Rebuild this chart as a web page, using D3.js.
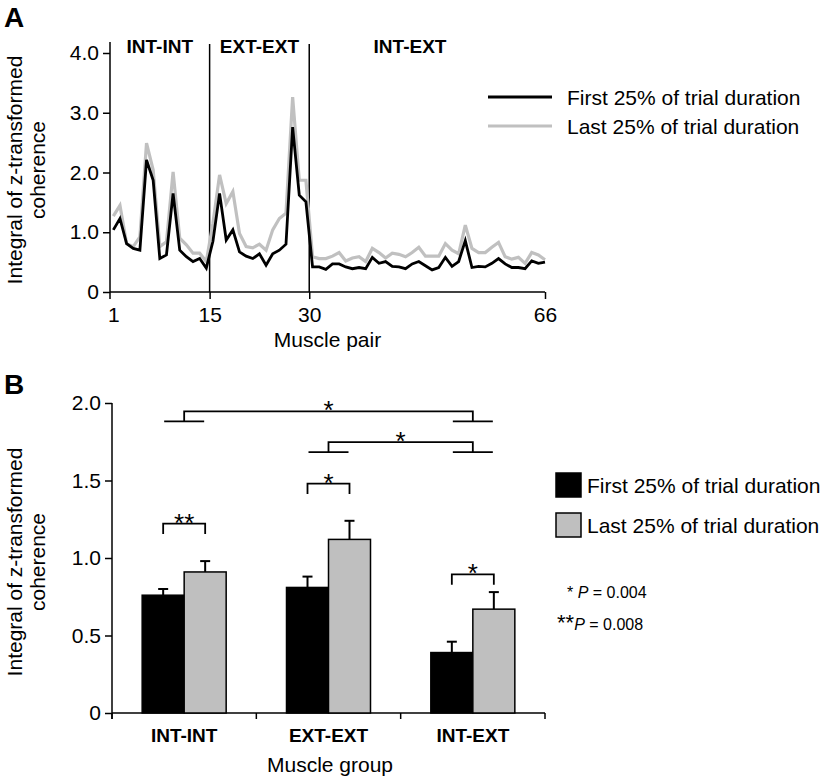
<!DOCTYPE html>
<html><head><meta charset="utf-8">
<script src="https://cdn.jsdelivr.net/npm/d3@7"></script>
<style>body{margin:0;background:#fff} svg{display:block} text{font-family:"Liberation Sans",Arial,sans-serif;fill:#000}</style>
</head><body><svg id="c" width="827" height="781"></svg>
<script>
// ---------- Panel A data ----------
const firstA = [1.04,1.23,0.81,0.73,0.70,2.21,1.87,0.56,0.62,1.65,0.70,0.59,0.51,0.56,0.40,
  0.85,1.65,0.87,1.04,0.67,0.60,0.56,0.64,0.45,0.64,0.70,0.80,2.76,1.62,1.51,
  0.42,0.42,0.38,0.47,0.47,0.42,0.39,0.41,0.39,0.58,0.48,0.51,0.43,0.42,0.39,0.47,0.51,0.44,
  0.37,0.41,0.58,0.43,0.51,0.86,0.41,0.43,0.42,0.48,0.56,0.47,0.41,0.41,0.39,0.52,0.48,0.50];
const lastA = [1.27,1.45,0.81,0.76,0.92,2.49,2.04,0.76,0.84,2.01,0.90,0.79,0.65,0.65,0.51,
  1.15,1.96,1.48,1.68,0.98,0.76,0.74,0.80,0.70,1.04,1.23,1.32,3.26,1.87,1.87,
  0.59,0.56,0.56,0.60,0.66,0.52,0.57,0.59,0.51,0.73,0.66,0.57,0.65,0.63,0.59,0.66,0.75,0.60,
  0.60,0.60,0.81,0.70,0.64,1.12,0.73,0.66,0.66,0.75,0.83,0.59,0.55,0.58,0.48,0.66,0.62,0.54];
const regionLabels = ["INT-INT","EXT-EXT","INT-EXT"];
const regionBounds = [15.5, 30.5];
const xTickPos = [1, 15.5, 30.5, 66];
const xTickLabels = ["1","15","30","66"];
const yTicksA = [0,1,2,3,4];

// ---------- Panel B data ----------
const groups = ["INT-INT","EXT-EXT","INT-EXT"];
const firstB = [0.76,0.81,0.39];
const firstSE = [0.04,0.07,0.07];
const lastB = [0.91,1.12,0.67];
const lastSE = [0.07,0.12,0.11];
const yTicksB = [0,0.5,1,1.5,2];
const seriesNames = ["First 25% of trial duration","Last 25% of trial duration"];
const withinSig = ["**","*","*"];
const withinSigY = [1.222,1.48,0.895];
const betweenSig = [
  {from:"INT-INT", to:"INT-EXT", y:1.946, label:"*"},
  {from:"EXT-EXT", to:"INT-EXT", y:1.747, label:"*"}];
const pNotes = ["P = 0.004","P = 0.008"];

const svg = d3.select("#c");
const FONT = 21;
const GRAY_LINE = "#c0c0c0", GRAY_BAR = "#bfbfbf";

// ================= PANEL A =================
const xA = d3.scaleLinear().domain([0.5,66]).range([110,545]);
const yA = d3.scaleLinear().domain([0,4]).range([292,53]);
const gA = svg.append("g");

svg.append("text").attr("x",4).attr("y",27).attr("font-size",28).attr("font-weight","bold").text("A");

// y axis
const axA = gA.append("g").attr("transform","translate(110,0)")
  .call(d3.axisLeft(yA).tickValues(yTicksA).tickSize(7).tickPadding(4)
    .tickFormat(d=>d===0?"0":d3.format(".1f")(d)));
axA.select(".domain").remove();
axA.selectAll("line").attr("stroke-width",1.5);
axA.selectAll("text").attr("font-size",FONT).style("font-family",'"Liberation Sans",Arial,sans-serif');
gA.append("line").attr("x1",110).attr("x2",110).attr("y1",42).attr("y2",299).attr("stroke","#000").attr("stroke-width",1.5);

// x axis
const axXA = gA.append("g").attr("transform","translate(0,292)")
  .call(d3.axisBottom(xA).tickValues(xTickPos).tickSize(7).tickPadding(8)
    .tickFormat((d,i)=>xTickLabels[i]));
axXA.select(".domain").remove();
axXA.selectAll("line").attr("stroke-width",1.5);
axXA.selectAll(".tick").filter((d,i)=>i===0).select("line").remove();
axXA.selectAll("text").attr("font-size",FONT).style("font-family",'"Liberation Sans",Arial,sans-serif');
gA.append("line").attr("x1",110).attr("x2",xA(66)).attr("y1",292).attr("y2",292).attr("stroke","#000").attr("stroke-width",1.5);

// region dividers
regionBounds.forEach(b=>{
  gA.append("line").attr("x1",xA(b)).attr("x2",xA(b)).attr("y1",44).attr("y2",292)
    .attr("stroke","#000").attr("stroke-width",1.5);
});
const regionCenters = [(xA(0.5)+xA(regionBounds[0]))/2, (xA(regionBounds[0])+xA(regionBounds[1]))/2, 410];
regionLabels.forEach((l,i)=>{
  gA.append("text").attr("x",regionCenters[i]).attr("y",53).attr("text-anchor","middle")
    .attr("font-size",19).attr("font-weight","bold").text(l);
});

// lines
const lineA = d3.line().x((d,i)=>xA(i+1)).y(d=>yA(d));
gA.append("path").datum(lastA).attr("d",lineA).attr("fill","none").attr("stroke",GRAY_LINE).attr("stroke-width",3.2);
gA.append("path").datum(firstA).attr("d",lineA).attr("fill","none").attr("stroke","#000").attr("stroke-width",2.8);

// axis titles
gA.append("text").attr("x",(110+545)/2).attr("y",347).attr("text-anchor","middle").attr("font-size",FONT).text("Muscle pair");
const titA = gA.append("text").attr("transform","translate(0,170) rotate(-90)").attr("text-anchor","middle").attr("font-size",FONT);
titA.append("tspan").attr("x",0).attr("y",22).text("Integral of z-transformed");
titA.append("tspan").attr("x",0).attr("y",45).text("coherence");

// legend A
[["#000",2.8],[GRAY_LINE,3.2]].forEach((s,i)=>{
  const yy = 97 + i*29;
  gA.append("line").attr("x1",488).attr("x2",552).attr("y1",yy).attr("y2",yy).attr("stroke",s[0]).attr("stroke-width",s[1]);
  gA.append("text").attr("x",567).attr("y",yy+7.5).attr("font-size",FONT).text(seriesNames[i]);
});

// ================= PANEL B =================
const gB = svg.append("g");
svg.append("text").attr("x",4).attr("y",394).attr("font-size",28).attr("font-weight","bold").text("B");
const yB = d3.scaleLinear().domain([0,2]).range([713,403]);
const xB = d3.scaleBand().domain(groups).range([112,545]);
const barW = 42;
const xs = d3.scaleBand().domain([0,1]).range([xB.bandwidth()/2-barW, xB.bandwidth()/2+barW]);

const axB = gB.append("g").attr("transform","translate(112,0)")
  .call(d3.axisLeft(yB).tickValues(yTicksB).tickSize(7).tickPadding(4)
    .tickFormat(d=>d===0?"0":d3.format(".1f")(d)));
axB.select(".domain").remove();
axB.selectAll("line").attr("stroke-width",1.5);
axB.selectAll("text").attr("font-size",FONT).style("font-family",'"Liberation Sans",Arial,sans-serif');
gB.append("line").attr("x1",112).attr("x2",112).attr("y1",yB(2)).attr("y2",719).attr("stroke","#000").attr("stroke-width",1.5);
gB.append("line").attr("x1",112).attr("x2",545).attr("y1",713).attr("y2",713).attr("stroke","#000").attr("stroke-width",1.5);
const bounds = groups.map(g=>xB(g)).concat([xB.range()[1]]);
bounds.forEach(b=>gB.append("line").attr("x1",b).attr("x2",b).attr("y1",713).attr("y2",719).attr("stroke","#000").attr("stroke-width",1.5));
groups.forEach(g=>gB.append("text").attr("x",xB(g)+xB.bandwidth()/2).attr("y",742)
  .attr("text-anchor","middle").attr("font-size",19).attr("font-weight","bold").text(g));
gB.append("text").attr("x",330).attr("y",772).attr("text-anchor","middle").attr("font-size",FONT).text("Muscle group");
const titB = gB.append("text").attr("transform","translate(0,562) rotate(-90)").attr("text-anchor","middle").attr("font-size",FONT);
titB.append("tspan").attr("x",0).attr("y",22).text("Integral of z-transformed");
titB.append("tspan").attr("x",0).attr("y",45).text("coherence");

// bars
const series = [
  {vals:firstB, se:firstSE, fill:"#000"},
  {vals:lastB, se:lastSE, fill:GRAY_BAR}];
const barCenter = (gi,si)=>xB(groups[gi])+xs(si)+xs.bandwidth()/2;
series.forEach((s,si)=>{
  s.vals.forEach((v,gi)=>{
    const cx = barCenter(gi,si);
    gB.append("line").attr("x1",cx).attr("x2",cx).attr("y1",yB(v)).attr("y2",yB(v+s.se[gi])).attr("stroke","#000").attr("stroke-width",2);
    gB.append("line").attr("x1",cx-5).attr("x2",cx+5).attr("y1",yB(v+s.se[gi])).attr("y2",yB(v+s.se[gi])).attr("stroke","#000").attr("stroke-width",2);
  });
  gB.selectAll(null).data(s.vals).enter().append("rect")
    .attr("x",(v,gi)=>xB(groups[gi])+xs(si)).attr("width",xs.bandwidth())
    .attr("y",v=>yB(v)).attr("height",v=>yB(0)-yB(v))
    .attr("fill",s.fill).attr("stroke","#000").attr("stroke-width",1.5);
});

// within-group brackets
withinSig.forEach((lab,gi)=>{
  const x1 = barCenter(gi,0), x2 = barCenter(gi,1), yy = yB(withinSigY[gi]);
  gB.append("path").attr("d",`M${x1},${yy+10.5}V${yy}H${x2}V${yy+10.5}`).attr("fill","none").attr("stroke","#000").attr("stroke-width",1.8);
  gB.append("text").attr("x",(x1+x2)/2).attr("y",yy+8).attr("text-anchor","middle").attr("font-size",26).text(lab);
});
// between-group brackets
betweenSig.forEach(b=>{
  const c1 = xB(b.from)+xB.bandwidth()/2, c2 = xB(b.to)+xB.bandwidth()/2, yy = yB(b.y);
  gB.append("path").attr("d",`M${c1},${yy+10}V${yy}H${c2}V${yy+10}`).attr("fill","none").attr("stroke","#000").attr("stroke-width",1.8);
  [c1,c2].forEach(c=>gB.append("line").attr("x1",c-20).attr("x2",c+20).attr("y1",yy+10).attr("y2",yy+10).attr("stroke","#000").attr("stroke-width",1.8));
  gB.append("text").attr("x",(c1+c2)/2).attr("y",yy+8).attr("text-anchor","middle").attr("font-size",26).text(b.label);
});

// legend B
series.forEach((s,si)=>{
  const yy = 473 + si*40;
  gB.append("rect").attr("x",556).attr("y",yy).attr("width",25).attr("height",24).attr("fill",s.fill).attr("stroke","#000").attr("stroke-width",1.5);
  gB.append("text").attr("x",587).attr("y",yy+19.5).attr("font-size",FONT).text(seriesNames[si]);
});
// p-value notes
const p1 = gB.append("text").attr("x",567).attr("y",598).attr("font-size",16);
p1.append("tspan").text("* ");
p1.append("tspan").attr("font-style","italic").text(pNotes[0].slice(0,1));
p1.append("tspan").text(pNotes[0].slice(1));
const p2 = gB.append("text").attr("x",557).attr("y",630).attr("font-size",16);
p2.append("tspan").attr("font-size",22).text("**");
p2.append("tspan").attr("font-style","italic").text(pNotes[1].slice(0,1));
p2.append("tspan").text(pNotes[1].slice(1));
</script></body></html>
